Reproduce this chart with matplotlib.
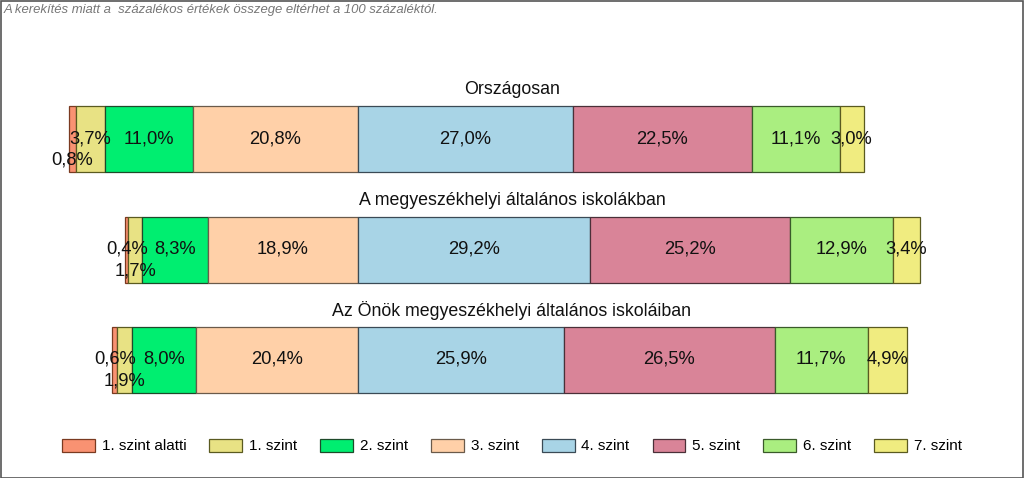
import matplotlib
matplotlib.use("Agg")
import matplotlib.pyplot as plt
from matplotlib.patches import Patch, Rectangle

plt.rcParams['font.family'] = ['Liberation Sans', 'DejaVu Sans']

groups = ["Országosan",
          "A megyeszékhelyi általános iskolákban",
          "Az Önök megyeszékhelyi általános iskoláiban"]
levels = ["1. szint alatti", "1. szint", "2. szint", "3. szint",
          "4. szint", "5. szint", "6. szint", "7. szint"]
values = [
    [0.8, 3.7, 11.0, 20.8, 27.0, 22.5, 11.1, 3.0],
    [0.4, 1.7, 8.3, 18.9, 29.2, 25.2, 12.9, 3.4],
    [0.6, 1.9, 8.0, 20.4, 25.9, 26.5, 11.7, 4.9],
]
colors = ["#F99272", "#E8E284", "#00EE70", "#FFD0A8",
          "#A8D4E6", "#D98498", "#AAEE80", "#F0EC80"]
edges = ["#7A3A20", "#5A5A20", "#1E4A2A", "#6A5A4A",
         "#3A4A55", "#4A3038", "#3A5A2A", "#5A5A20"]
note = "A kerekítés miatt a  százalékos értékek összege eltérhet a 100 százaléktól."

# labels shifted downward to avoid overlaps
low_label = [{0}, {1}, {1}]

fig = plt.figure(figsize=(10.24, 4.78), dpi=100)
ax = fig.add_axes([0, 0, 1, 1])
pxpp = 7.95
x0 = 358
ax.set_xlim(-x0 / pxpp, (1024 - x0) / pxpp)
ax.set_ylim(478, 0)
ax.axis("off")

ycent = [139, 249.5, 359.5]
bh = 66
for gi, (g, vals) in enumerate(zip(groups, values)):
    left = -sum(vals[:4])
    y = ycent[gi]
    for li, v in enumerate(vals):
        ax.barh(y, v, left=left, height=bh, color=colors[li],
                edgecolor=edges[li], linewidth=0.9)
        yy = y + (21 if li in low_label[gi] else 0)
        ax.text(left + v / 2, yy, f"{v:.1f}%".replace(".", ","),
                ha="center", va="center", fontsize=13.2, color="#111111")
        left += v
    ax.text(0.5, 1 - (y - bh / 2 - 16) / 478, g, transform=ax.transAxes,
            ha="center", va="center", fontsize=12.8, color="#111111")

ax.text(4 / 1024, 1 - 10 / 478, note, transform=ax.transAxes,
        ha="left", va="center", fontsize=9.45, style="italic", color="#777777")

handles = [Patch(facecolor=c, edgecolor=e, linewidth=0.9) for c, e in zip(colors, edges)]
leg = fig.legend(handles, levels, loc="center", bbox_to_anchor=(0.5, 1 - 446 / 478),
                 ncol=8, frameon=False, fontsize=11, handlelength=2.15,
                 handleheight=0.95, handletextpad=0.45, columnspacing=1.5)

fig.patches.append(Rectangle((0.5 / 1024, 0.5 / 478), 1 - 1.5 / 1024, 1 - 1.5 / 478,
                             transform=fig.transFigure, fill=False,
                             edgecolor="#555555", linewidth=1.2))
fig.savefig("out.png", dpi=100)
